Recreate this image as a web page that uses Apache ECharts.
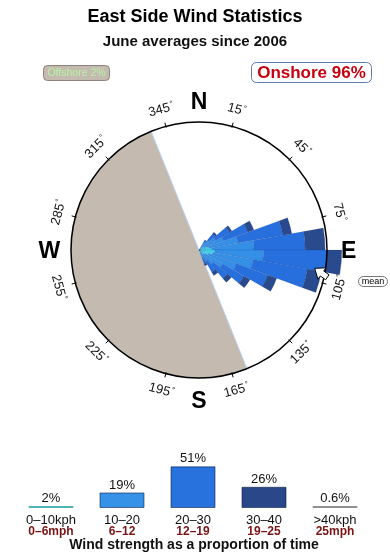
<!DOCTYPE html>
<html><head><meta charset="utf-8">
<script src="https://cdn.jsdelivr.net/npm/echarts@6/dist/echarts.min.js"></script>
<style>html,body{margin:0;padding:0;background:#fff}#c{width:390px;height:560px}</style>
</head><body><div id="c"></div>
<script>
// ---- data ----
// direction bins: start bearing of each 10-degree sector
const dirBins = [30, 40, 50, 60, 70, 80, 90, 100, 110, 120, 130, 140, 150];
// rose petal segment lengths (radius units, circle = 100), per speed class
const rose0to10  = [2, 3, 4, 5.5, 8, 10, 12.5, 11, 8, 5.5, 4.5, 3, 2.5];
const rose10to20 = [4, 7, 11, 15, 23, 33, 38, 32, 23, 16, 10, 7, 4];
const rose20to30 = [3, 6.5, 12.5, 20, 35.5, 40, 49.5, 43, 26, 19, 14.5, 10, 5];
const rose30to40 = [0, 1.5, 2, 5, 7, 15.5, 11.5, 11, 7.5, 5.5, 4, 3, 1.5];
const rose40plus = [0, 0, 0, 0, 0, 0, 0, 0, 0, 0, 0, 0, 0];

const speedKph = ['0–10kph', '10–20', '20–30', '30–40', '>40kph'];
const speedMph = ['0–6mph', '6–12', '12–19', '19–25', '25mph'];
const speedShare = [2, 19, 51, 26, 0.6];

const tickAngles = [15, 45, 75, 105, 135, 165, 195, 225, 255, 285, 315, 345];
const compassNames = ['N', 'E', 'S', 'W'];
const compassAngles = [0, 90, 180, 270];

const offshoreSector = [158, 338];
const offshorePct = 2;
const onshorePct = 96;
const meanDirection = 99;

// ---- colours ----
const speedColors = ['#3fd9ee', '#3490e6', '#276fdd', '#294a8c', '#8a8a8a'];
const legendColors = ['#4fb3b3', '#3592e6', '#2872de', '#2a4889', '#909090'];
const FONT = "'Liberation Sans', Arial, Helvetica, sans-serif";

// build 36-category arrays for polar bar series
const cats = [];
for (let a = 0; a < 360; a += 10) cats.push(String(a));
function expand(arr) {
  const out = new Array(36).fill(0);
  dirBins.forEach((b, i) => { out[b / 10] = arr[i]; });
  return out;
}
const roseSets = [rose0to10, rose10to20, rose20to30, rose30to40, rose40plus];

const chart = echarts.init(document.getElementById('c'), null, {renderer: 'canvas'});

const barSeries = roseSets.map((arr, k) => ({
  type: 'bar', coordinateSystem: 'polar', polarIndex: 0, stack: 'rose',
  data: expand(arr), barCategoryGap: '0%', clip: false, z: 2,
  itemStyle: {color: speedColors[k], borderColor: 'rgba(20,40,110,0.22)', borderWidth: 0.5},
  silent: true
}));

function rotCw(b) {
  let r = ((b % 360) + 360) % 360;
  if (r > 90 && r < 270) r -= 180;
  return r;
}

const option = {
  animation: false,
  backgroundColor: '#fff',
  polar: [
    {center: [199, 250], radius: 128},
    {center: [199, 250], radius: 128}
  ],
  angleAxis: [
    {polarIndex: 0, type: 'category', data: cats, startAngle: 90, clockwise: true, boundaryGap: true, show: false},
    {polarIndex: 1, type: 'value', min: 0, max: 360, startAngle: 90, clockwise: true, show: false}
  ],
  radiusAxis: [
    {polarIndex: 0, type: 'value', min: 0, max: 100, show: false},
    {polarIndex: 1, type: 'value', min: 0, max: 100, show: false}
  ],
  grid: {left: 15.5, right: 19.5, top: 459, bottom: 52},
  xAxis: {
    type: 'category', data: speedKph,
    axisLine: {show: false}, axisTick: {show: false},
    axisLabel: {
      margin: 6, interval: 0,
      formatter: (v, i) => `{a|${v}}\n{b|${speedMph[i]}}`,
      rich: {
        a: {fontSize: 13, color: '#111', lineHeight: 12, fontFamily: FONT},
        b: {fontSize: 12, fontWeight: 'bold', color: '#7a1414', lineHeight: 12, fontFamily: FONT}
      }
    }
  },
  yAxis: {type: 'value', min: 0, max: 60, show: false},
  series: [
    // offshore sector
    {
      type: 'custom', coordinateSystem: 'polar', polarIndex: 1, z: 1, silent: true,
      data: [[100, offshoreSector[0], offshoreSector[1]]],
      renderItem: (params, api) => {
        const c = api.coord([0, 0]);
        const p1 = api.coord([100, api.value(1)]);
        const p2 = api.coord([100, api.value(2)]);
        const r = Math.hypot(p1[0] - c[0], p1[1] - c[1]);
        const a1 = Math.atan2(p1[1] - c[1], p1[0] - c[0]);
        let a2 = Math.atan2(p2[1] - c[1], p2[0] - c[0]);
        if (a2 < a1) a2 += Math.PI * 2;
        return {
          type: 'sector',
          shape: {cx: c[0], cy: c[1], r0: 0, r: r, startAngle: a1, endAngle: a2, clockwise: true},
          style: {fill: '#c4baaf', stroke: '#b9d3ef', lineWidth: 1}
        };
      }
    },
    ...barSeries,
    // outer ring circle
    {
      type: 'custom', coordinateSystem: 'polar', polarIndex: 1, z: 3, silent: true,
      data: [[100, 0]],
      renderItem: (params, api) => {
        const c = api.coord([0, 0]);
        const p = api.coord([api.value(0), api.value(1)]);
        const r = Math.hypot(p[0] - c[0], p[1] - c[1]);
        return {type: 'circle', shape: {cx: c[0], cy: c[1], r: r},
          style: {fill: 'none', stroke: '#000', lineWidth: 1.5}};
      }
    },
    // ticks and degree labels
    {
      type: 'custom', coordinateSystem: 'polar', polarIndex: 1, z: 3, silent: true,
      data: tickAngles.map(a => [100, a]),
      renderItem: (params, api) => {
        const a = api.value(1);
        const p0 = api.coord([99, a]);
        const p1 = api.coord([103, a]);
        const pl = api.coord([113.5, a]);
        return {
          type: 'group',
          children: [
            {type: 'line', shape: {x1: p0[0], y1: p0[1], x2: p1[0], y2: p1[1]}, style: {stroke: '#000', lineWidth: 1}},
            {type: 'text', x: pl[0], y: pl[1], rotation: -rotCw(a) * Math.PI / 180,
              style: {text: '{n|' + a + '}{d|°}', fill: '#111', fontFamily: FONT, align: 'center', verticalAlign: 'middle',
                rich: {n: {fontSize: 13, fontFamily: FONT, fill: '#111'},
                       d: {fontSize: 8, fontFamily: FONT, fill: '#111', verticalAlign: 'top', padding: [0, 0, 6, 1]}}}}
          ]
        };
      }
    },
    // compass letters
    {
      type: 'custom', coordinateSystem: 'polar', polarIndex: 1, z: 3, silent: true,
      data: compassAngles.map(a => [117, a]),
      renderItem: (params, api) => {
        const p = api.coord([api.value(0), api.value(1)]);
        return {type: 'text', x: p[0], y: p[1] + 2,
          style: {text: compassNames[params.dataIndex], fill: '#000', fontSize: 23, fontWeight: 'bold',
            fontFamily: FONT, align: 'center', verticalAlign: 'middle'}};
      }
    },
    // mean direction arrow
    {
      type: 'custom', coordinateSystem: 'polar', polarIndex: 1, z: 4, silent: true,
      data: [[91.5, meanDirection]],
      renderItem: (params, api) => {
        const tip = api.coord([api.value(0), api.value(1)]);
        const tail = api.coord([102.5, api.value(1) + 3]);
        const dx = tip[0] - tail[0], dy = tip[1] - tail[1];
        const L = Math.hypot(dx, dy);
        const ux = dx / L, uy = dy / L, nx = -uy, ny = ux;
        const hl = 9, hw = 7, sw = 3;
        const bx = tip[0] - ux * hl, by = tip[1] - uy * hl;
        const pts = [
          tip,
          [bx + nx * hw, by + ny * hw],
          [bx + nx * sw, by + ny * sw],
          [tail[0] + nx * sw, tail[1] + ny * sw],
          [tail[0] - nx * sw, tail[1] - ny * sw],
          [bx - nx * sw, by - ny * sw],
          [bx - nx * hw, by - ny * hw]
        ];
        return {type: 'polygon', shape: {points: pts}, style: {fill: '#fff', stroke: '#000', lineWidth: 1}};
      }
    },
    // wind strength bars
    {
      type: 'bar', xAxisIndex: 0, yAxisIndex: 0, barWidth: 45, barMinHeight: 2,
      data: speedShare.map((v, i) => ({value: v, itemStyle: {color: legendColors[i],
        borderColor: i === 0 || i === 4 ? legendColors[i] : 'rgba(10,20,60,0.55)', borderWidth: 1}})),
      label: {show: true, position: 'top', distance: 1, formatter: p => p.value + '%',
        fontSize: 13, color: '#111', fontFamily: FONT},
      silent: true
    }
  ],
  graphic: [
    {type: 'text', x: 195, y: 17, style: {text: 'East Side Wind Statistics', fontSize: 18, fontWeight: 'bold',
      fill: '#000', fontFamily: FONT, align: 'center', verticalAlign: 'middle'}},
    {type: 'text', x: 195, y: 41.5, style: {text: 'June averages since 2006', fontSize: 15, fontWeight: 'bold',
      fill: '#111', fontFamily: FONT, align: 'center', verticalAlign: 'middle'}},
    {type: 'rect', shape: {x: 43.5, y: 65.5, width: 66, height: 15, r: 4},
      style: {fill: '#c4baaf', stroke: '#8c847c', lineWidth: 1}},
    {type: 'text', x: 76.5, y: 73.5, style: {text: 'Offshore ' + offshorePct + '%', fontSize: 10.5,
      fill: '#b6f4a6', fontFamily: FONT, align: 'center', verticalAlign: 'middle'}},
    {type: 'rect', shape: {x: 251.5, y: 62.5, width: 120, height: 20, r: 5},
      style: {fill: '#fff', stroke: '#5d7ba6', lineWidth: 1}},
    {type: 'text', x: 311.5, y: 73, style: {text: 'Onshore ' + onshorePct + '%', fontSize: 17, fontWeight: 'bold',
      fill: '#c8000f', fontFamily: FONT, align: 'center', verticalAlign: 'middle'}},
    {type: 'rect', shape: {x: 358.5, y: 276.5, width: 29, height: 10, r: 5},
      style: {fill: '#fff', stroke: '#777', lineWidth: 1}},
    {type: 'text', x: 373, y: 282, style: {text: 'mean', fontSize: 9, fill: '#000', fontFamily: FONT,
      align: 'center', verticalAlign: 'middle'}},
    {type: 'text', x: 194, y: 545, style: {text: 'Wind strength as a proportion of time', fontSize: 14,
      fontWeight: 'bold', fill: '#111', fontFamily: FONT, align: 'center', verticalAlign: 'middle'}}
  ]
};
chart.setOption(option);
</script>
</body></html>
